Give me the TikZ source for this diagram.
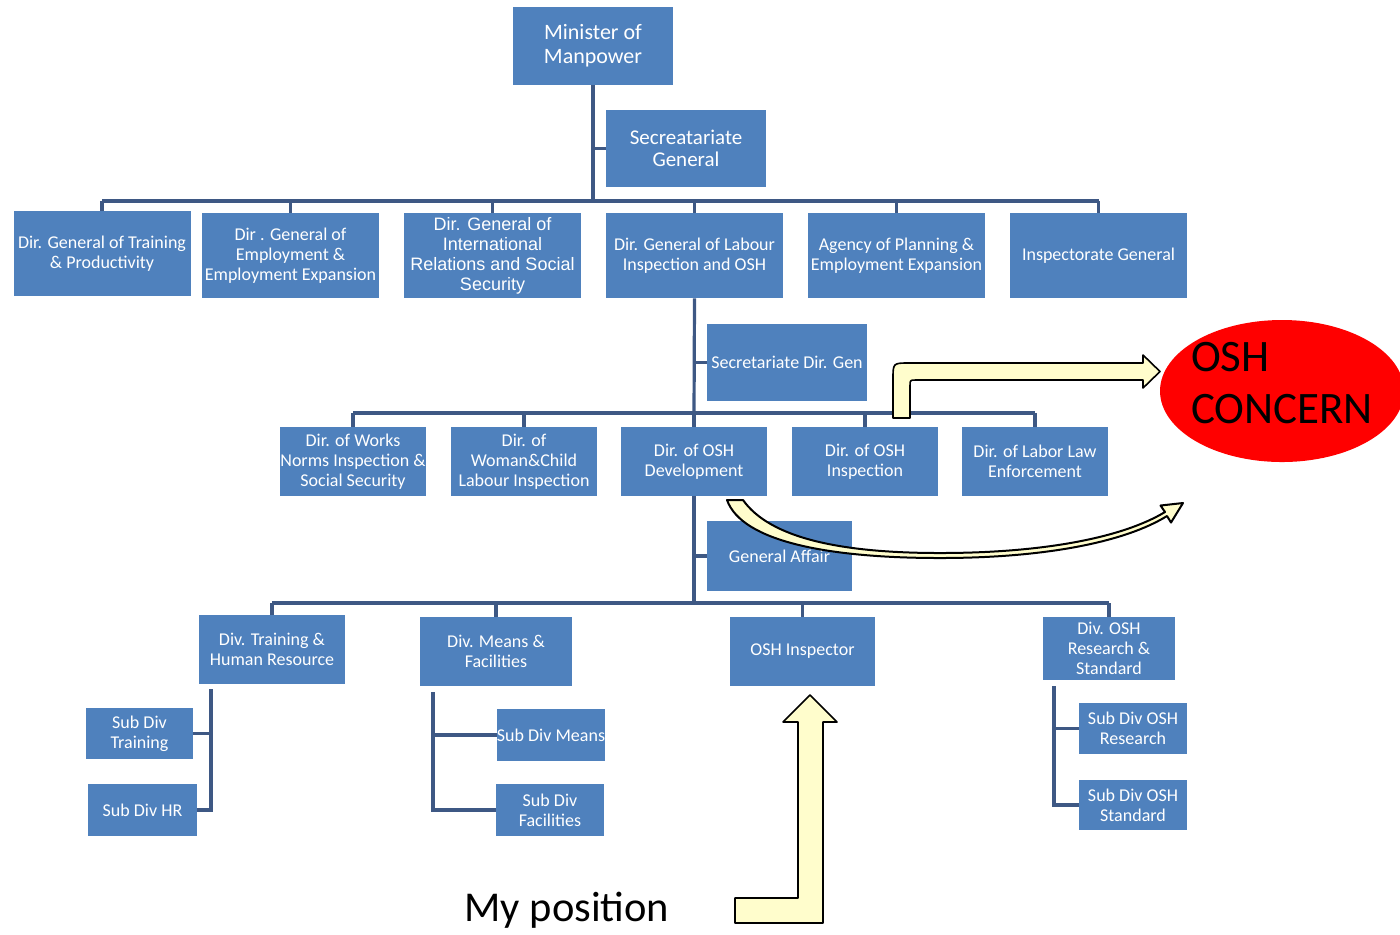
\documentclass[tikz,border=0pt]{standalone}
\usepackage{fontspec}
\setmainfont{Carlito}
\newfontfamily\arialf{Liberation Sans}
\usetikzlibrary{shapes.geometric}
\definecolor{boxblue}{RGB}{79,129,189}
\definecolor{linec}{RGB}{62,88,132}
\definecolor{pale}{RGB}{255,253,204}
\begin{document}
\begin{tikzpicture}[x=0.5pt,y=-0.5pt,
  box/.style={fill=boxblue,text=white,align=center,inner sep=0pt,font=\fontsize{9}{10}\selectfont},
  sz/.style 2 args={minimum width=#1*0.5pt,minimum height=#2*0.5pt},
  conn/.style={draw=linec,line width=1.6pt},
  blockarrow/.style={fill=pale,draw=black,line width=0.8pt,line join=round}]
\useasboundingbox (0,0) rectangle (1400,934);

% level 0
\node[box,sz={160}{78},font=\fontsize{11}{12}\selectfont] (min) at (593,46) {Minister of\\Manpower};
\node[box,sz={160}{77},font=\fontsize{10.5}{11}\selectfont] (sg) at (686,148.5) {Secreatariate\\General};

% level 1
\node[box,sz={177}{85}] (dg1) at (102,253.5) {Dir. General of Training\\\& Productivity};
\node[box,sz={177}{85}] (dg2) at (290.5,255.5) {Dir . General of\\Employment \&\\Employment Expansion};
\node[box,sz={177}{85},font=\arialf\fontsize{9}{10}\selectfont] (dg3) at (492.5,255.5) {Dir. General of\\International\\Relations and Social\\Security};
\node[box,sz={177}{85}] (dg4) at (694.5,255.5) {Dir. General of Labour\\Inspection and OSH};
\node[box,sz={177}{85}] (dg5) at (896.5,255.5) {Agency of Planning \&\\Employment Expansion};
\node[box,sz={177}{85}] (dg6) at (1098.5,255.5) {Inspectorate General};
\node[box,sz={160}{77}] (sdg) at (787,362.5) {Secretariate Dir. Gen};

% level 2
\node[box,sz={146}{69}] (d1) at (353,461.5) {Dir. of Works\\Norms Inspection \&\\Social Security};
\node[box,sz={146}{69}] (d2) at (524,461.5) {Dir. of\\Woman\&Child\\Labour Inspection};
\node[box,sz={146}{69}] (d3) at (694,461.5) {Dir. of OSH\\Development};
\node[box,sz={146}{69}] (d4) at (865,461.5) {Dir. of OSH\\Inspection};
\node[box,sz={146}{69}] (d5) at (1035,461.5) {Dir. of Labor Law\\Enforcement};
\node[box,sz={145}{70}] (ga) at (779.5,556) {General Affair};

% level 3
\node[box,sz={146}{69}] (v1) at (272,649.5) {Div. Training \&\\Human Resource};
\node[box,sz={152}{69}] (v2) at (496,651.5) {Div. Means \&\\Facilities};
\node[box,sz={145}{69}] (v3) at (802.5,651.5) {OSH Inspector};
\node[box,sz={132}{63}] (v4) at (1109,648.5) {Div. OSH\\Research \&\\Standard};

% level 4
\node[box,sz={107}{51}] (s1) at (139.5,733.5) {Sub Div\\Training};
\node[box,sz={109}{52}] (s2) at (142.5,810) {Sub Div HR};
\node[box,sz={108}{52}] (s3) at (551,735) {Sub Div Means};
\node[box,sz={108}{52}] (s4) at (550,810) {Sub Div\\Facilities};
\node[box,sz={108}{51}] (s5) at (1133,728.5) {Sub Div OSH\\Research};
\node[box,sz={108}{50}] (s6) at (1133,805) {Sub Div OSH\\Standard};

% connectors level 0-1
\coordinate (b1) at (593,201);
\draw[conn] (min.south) -- (b1);
\draw[conn] (b1 |- sg.west) -- (sg.west);
\draw[conn] (dg1.north |- b1) -- (dg6.north |- b1);
\foreach \n in {dg1,dg2,dg3,dg4,dg5,dg6} \draw[conn] (\n.north |- b1) -- (\n.north);

% connectors level 1-2
\coordinate (b2) at (694,413);
\draw[conn] (dg4.south) -- (b2);
\draw[conn] (b2 |- sdg.west) -- (sdg.west);
\draw[conn] (d1.north |- b2) -- (d5.north |- b2);
\foreach \n in {d1,d2,d3,d4,d5} \draw[conn] (\n.north |- b2) -- (\n.north);

% connectors level 2-3
\coordinate (b3) at (694,603);
\draw[conn] (d3.south) -- (b3);
\draw[conn] (b3 |- ga.west) -- (ga.west);
\draw[conn] (v1.north |- b3) -- (v4.north |- b3);
\foreach \n in {v1,v2,v3,v4} \draw[conn] (\n.north |- b3) -- (\n.north);

% connectors level 3-4
\coordinate (j1) at (211,689);
\draw[conn] (j1) |- (s2.east);
\draw[conn] (j1 |- s1.east) -- (s1.east);
\coordinate (j2) at (433,692);
\draw[conn] (j2) |- (s4.west);
\draw[conn] (j2 |- s3.west) -- (s3.west);
\coordinate (j3) at (1054,686);
\draw[conn] (j3) |- (s6.west);
\draw[conn] (j3 |- s5.west) -- (s5.west);

% OSH concern
\node[ellipse,fill=red,minimum width=122pt,minimum height=71pt,inner xsep=-3pt,inner ysep=-4pt,
      text depth=8pt,align=left,font=\fontsize{22.5}{26}\selectfont,text=black] (osh) at (1282,391) {OSH\\CONCERN};

% bent arrow to OSH concern
\draw[blockarrow] (893,418) -- (893,379) .. controls (893,363) .. (909,363) -- (1143,363) -- (1143,355)
  -- (1160,371.5) -- (1143,388) -- (1143,380) -- (916,380) .. controls (910,380) .. (910,386) -- (910,418) -- cycle;

% curved arrow
\draw[blockarrow,line width=1pt] (727,500) .. controls (742,542) and (830,558) .. (940,558)
  .. controls (1045,558) and (1125,542) .. (1167,516) -- (1171,522.5) -- (1183,503) -- (1160.5,505.5)
  -- (1165,512) .. controls (1122,538) and (1042,553) .. (940,553)
  .. controls (840,553) and (770,538) .. (743,500) -- cycle;

% my position arrow
\draw[blockarrow] (735,898) -- (798,898) -- (798,722) -- (783,722) -- (810,695) -- (837,722)
  -- (823,722) -- (823,923) -- (735,923) -- cycle;
\node[font=\fontsize{21.25}{24}\selectfont,text=black,inner sep=0pt] (mypos) at (567,910) {My position};
\end{tikzpicture}
\end{document}
